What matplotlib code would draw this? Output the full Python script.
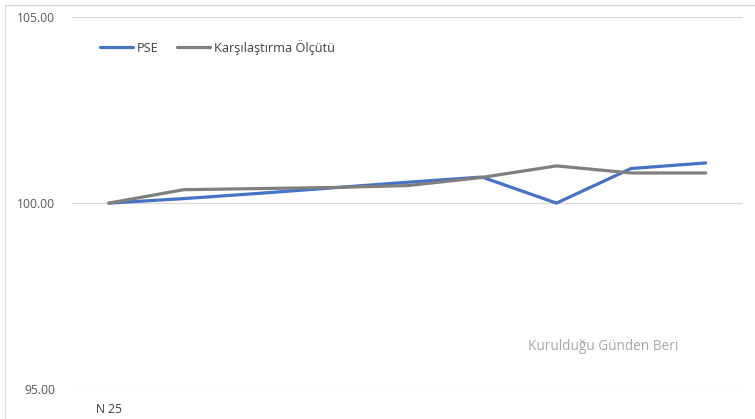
import matplotlib.pyplot as plt
from matplotlib.patches import Rectangle

# veriler
categories = ["N 25", "", "", "", "", "", "", "", ""]
pse = [100.00, 100.12, 100.26, 100.41, 100.56, 100.70, 100.00, 100.93, 101.08]
benchmark = [100.00, 100.36, 100.39, 100.42, 100.47, 100.69, 101.00, 100.81, 100.81]
yticks = [95.0, 100.0, 105.0]

plt.rcParams['font.family'] = ['Open Sans', 'DejaVu Sans']

fig = plt.figure(figsize=(7.55, 4.19), dpi=100)
ax = fig.add_axes([0.095, 0.0716, 0.889, 0.8874])

x = list(range(len(categories)))
ax.plot(x, pse, color='#4472C4', lw=2.3, label='PSE', solid_capstyle='round')
ax.plot(x, benchmark, color='#7F7F7F', lw=2.3, label='Karşılaştırma Ölçütü', solid_capstyle='round')

ax.set_xlim(-0.5, len(categories) - 0.5)
ax.set_ylim(95, 105)
ax.set_yticks(yticks)
ax.set_yticklabels([f"{v:.2f}" for v in yticks], color='#595959', fontsize=8.7)
ax.set_xticks(x)
ax.set_xticklabels(categories, color='#404040', fontsize=8.7)
ax.tick_params(length=0, pad=12)
ax.tick_params(axis='x', pad=10)
ax.grid(axis='y', color='#D9D9D9', lw=0.9)
for s in ax.spines.values():
    s.set_visible(False)

ax.text(0.792, 0.115, 'Kurulduğu Günden Beri', transform=ax.transAxes,
        color='#A6A6A6', fontsize=9.8, ha='center', va='center')

ax.legend(loc='upper left', bbox_to_anchor=(0.025, 0.97), ncol=2, frameon=False,
          fontsize=9.2, labelcolor='#404040', handlelength=2.6, handletextpad=0.3,
          columnspacing=1.4)

# grafik alanı çerçevesi
fig.patches.append(Rectangle((0.006, -0.01), 1.1, 0.998, transform=fig.transFigure,
                             fill=False, edgecolor='#D9D9D9', lw=1))

fig.savefig('out.png', dpi=100)
